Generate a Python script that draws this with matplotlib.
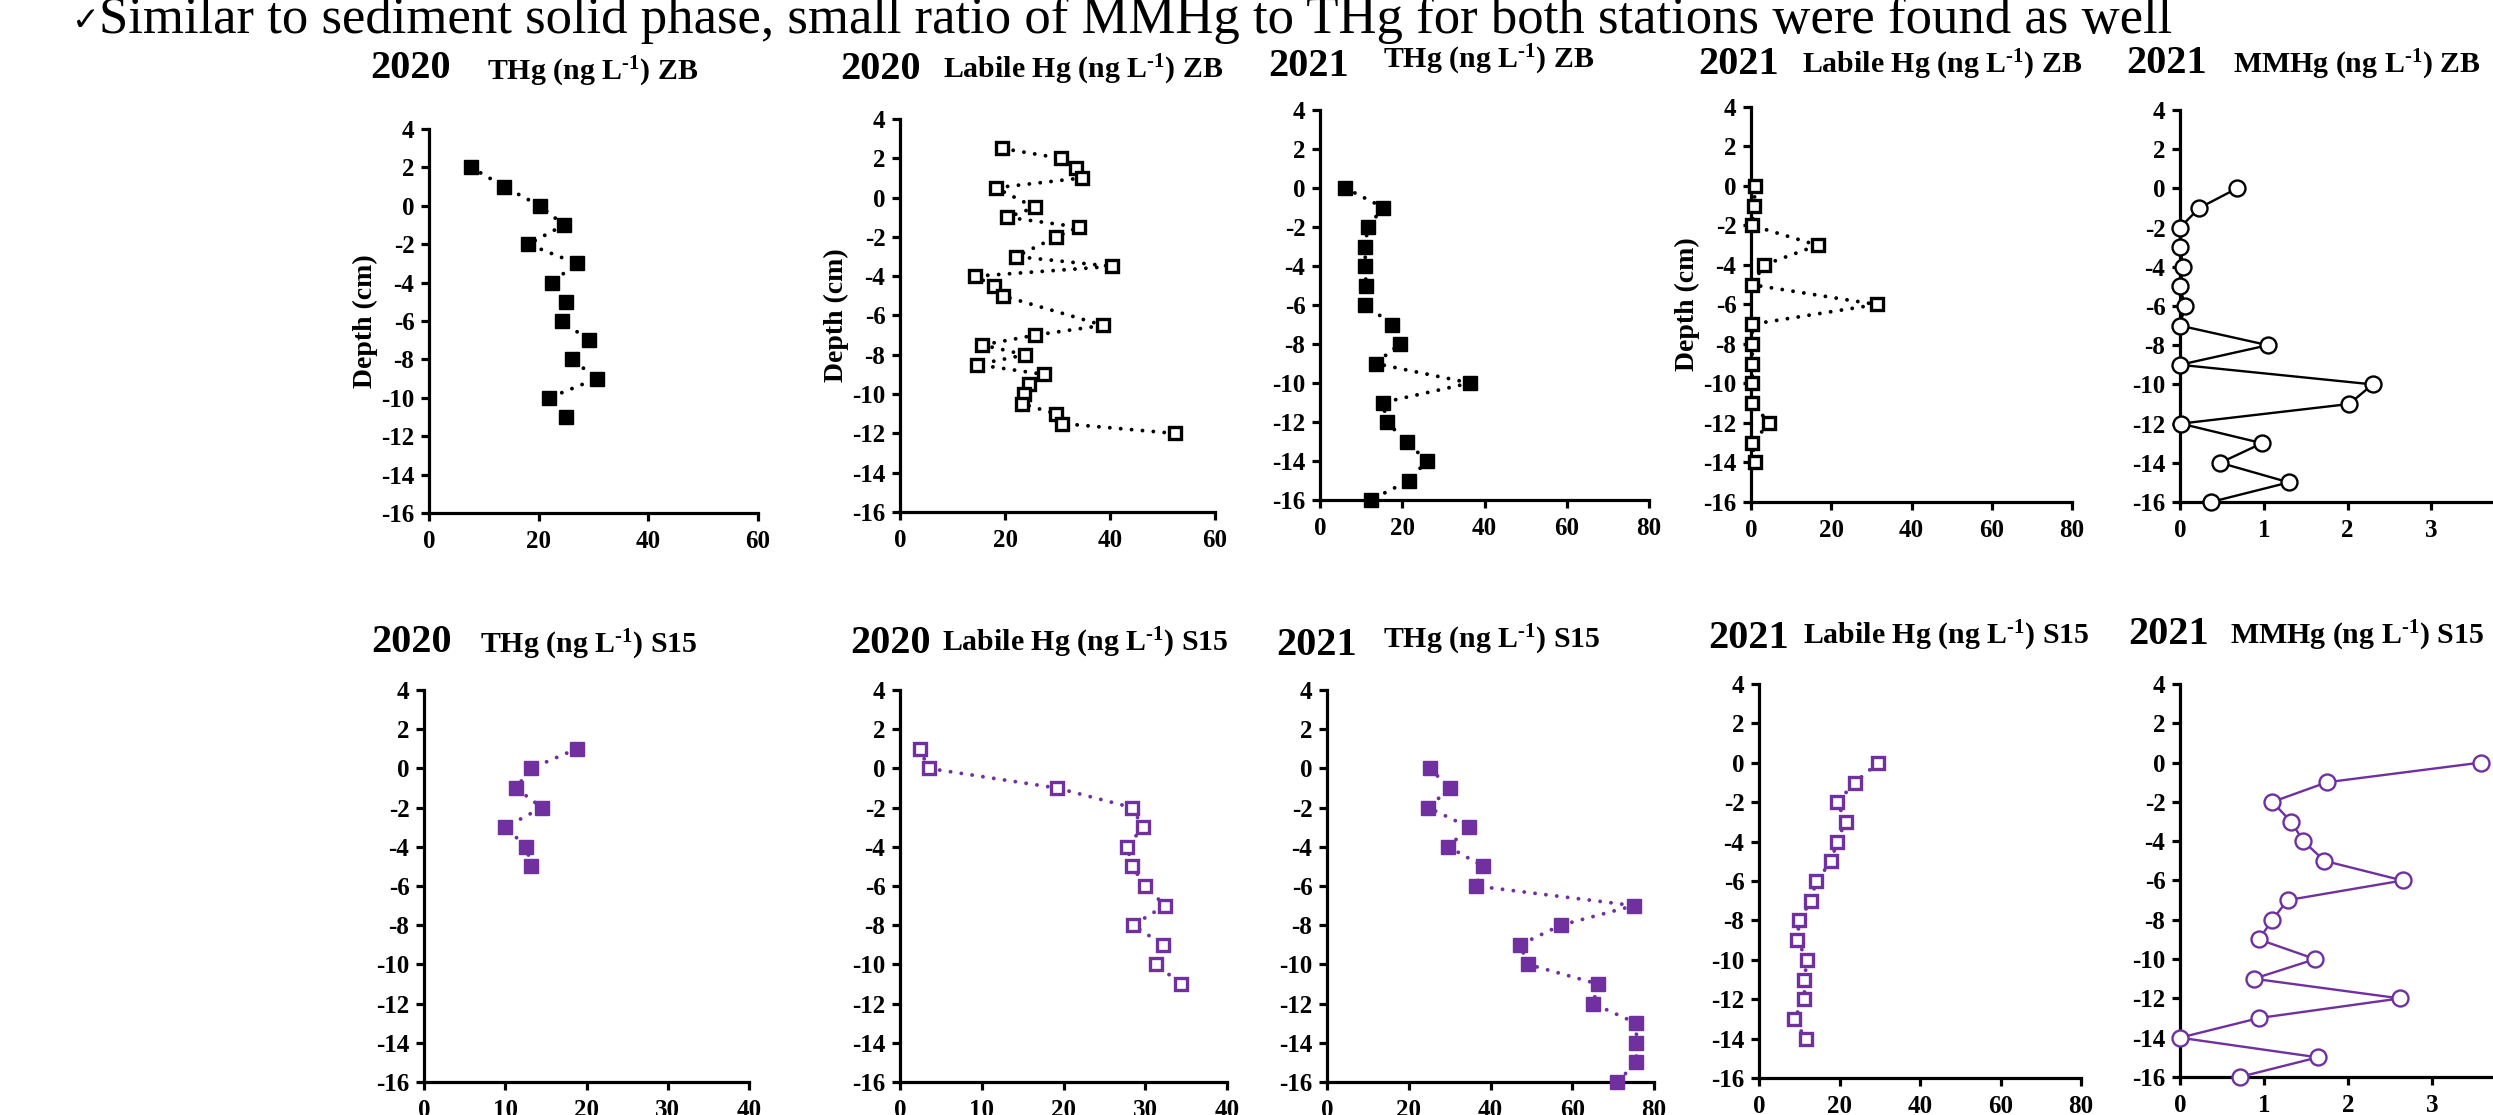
import matplotlib
matplotlib.use("Agg")
import matplotlib.pyplot as plt

plt.rcParams['font.family'] = ['Liberation Serif', 'DejaVu Sans']
plt.rcParams['font.weight'] = 'bold'
plt.rcParams['axes.unicode_minus'] = False
plt.rcParams['mathtext.fontset'] = 'custom'
plt.rcParams['mathtext.rm'] = 'Liberation Serif:bold'
plt.rcParams['mathtext.it'] = 'Liberation Serif:bold'
plt.rcParams['mathtext.bf'] = 'Liberation Serif:bold'
plt.rcParams['mathtext.default'] = 'rm'

PURPLE = '#7030A0'

# ---- data (depth in cm, concentration in ng/L) ----
zb20_thg_depth = [2, 1, 0, -1, -2, -3, -4, -5, -6, -7, -8, -9, -10, -11]
zb20_thg = [7.7, 13.7, 20.2, 24.6, 18.1, 26.9, 22.4, 24.9, 24.2, 29.2, 26.1, 30.6, 21.9, 24.9]

zb20_lab_depth = [2.5, 2, 1.5, 1, 0.5, -0.5, -1, -1.5, -2, -3, -3.5, -4, -4.5, -5, -6.5,
                  -7, -7.5, -8, -8.5, -9, -9.5, -10, -10.5, -11, -11.5, -12]
zb20_lab = [19.5, 30.6, 33.5, 34.7, 18.2, 25.7, 20.4, 34.0, 29.8, 22.1, 40.4, 14.3, 17.9, 19.6, 38.7,
            25.7, 15.7, 23.8, 14.7, 27.5, 24.5, 23.7, 23.3, 29.7, 30.9, 52.4]

zb21_thg_depth = [0, -1, -2, -3, -4, -5, -6, -7, -8, -9, -10, -11, -12, -13, -14, -15, -16]
zb21_thg = [6.1, 15.4, 11.6, 11.0, 11.0, 11.2, 11.0, 17.6, 19.4, 13.5, 36.5, 15.3, 16.2, 21.1, 25.9, 21.7, 12.3]

zb21_lab_depth = [0, -1, -2, -3, -4, -5, -6, -7, -8, -9, -10, -11, -12, -13, -14]
zb21_lab = [1.1, 0.7, 0.3, 16.6, 3.2, 0.3, 31.3, 0.3, 0.3, 0.3, 0.3, 0.2, 4.6, 0.3, 1.1]

zb21_mmhg_depth = [0, -1, -2, -3, -4, -5, -6, -7, -8, -9, -10, -11, -12, -13, -14, -15, -16]
zb21_mmhg = [0.68, 0.23, 0.0, 0.0, 0.04, 0.0, 0.06, 0.0, 1.05, 0.0, 2.30, 2.02, 0.01, 0.98, 0.48, 1.30, 0.37]

s15_20_thg_depth = [1, 0, -1, -2, -3, -4, -5]
s15_20_thg = [18.8, 13.2, 11.3, 14.5, 10.0, 12.6, 13.2]

s15_20_lab_depth = [1, 0, -1, -2, -3, -4, -5, -6, -7, -8, -9, -10, -11]
s15_20_lab = [2.4, 3.5, 19.2, 28.4, 29.7, 27.8, 28.4, 30.0, 32.4, 28.5, 32.2, 31.3, 34.4]

s15_21_thg_depth = [0, -1, -2, -3, -4, -5, -6, -7, -8, -9, -10, -11, -12, -13, -14, -15, -16]
s15_21_thg = [25.1, 30.1, 24.8, 34.7, 29.7, 38.2, 36.4, 75.1, 57.2, 47.2, 49.2, 66.3, 65.1, 75.7, 75.7, 75.7, 71.0]

s15_21_lab_depth = [0, -1, -2, -3, -4, -5, -6, -7, -8, -9, -10, -11, -12, -13, -14]
s15_21_lab = [29.6, 23.8, 19.5, 21.5, 19.3, 18.0, 14.2, 12.9, 10.0, 9.5, 11.9, 11.3, 11.3, 8.7, 11.6]

s15_21_mmhg_depth = [0, -1, -2, -3, -4, -5, -6, -7, -8, -9, -10, -11, -12, -13, -14, -15, -16]
s15_21_mmhg = [3.58, 1.75, 1.10, 1.32, 1.47, 1.72, 2.65, 1.28, 1.10, 0.94, 1.61, 0.88, 2.62, 0.94, 0.0, 1.64, 0.71]

W, H = 2493, 1115
fig = plt.figure(figsize=(W / 100, H / 100), dpi=100)


def px_axes(left, top, right, bottom):
    return fig.add_axes([left / W, 1 - bottom / H, (right - left) / W, (bottom - top) / H])


def panel(box, x, y, xmax, xstep, color, kind, ylabel=False):
    ax = px_axes(*box)
    if kind == 'filled':
        ax.plot(x, y, color=color, lw=2.8, linestyle=(0, (0.01, 2.8)), dash_capstyle='round',
                marker='s', ms=10, mfc=color, mec=color, clip_on=False, zorder=3)
    elif kind == 'open':
        ax.plot(x, y, color=color, lw=2.8, linestyle=(0, (0.01, 2.8)), dash_capstyle='round',
                marker='s', ms=8.5, mfc='white', mec=color, mew=2.4, clip_on=False, zorder=3)
    else:
        ax.plot(x, y, color=color, lw=1.7, marker='o', ms=11.5, mfc='white', mec=color, mew=1.7,
                clip_on=False, zorder=3)
    ax.set_xlim(0, xmax)
    ax.set_ylim(-16, 4)
    ax.set_yticks(range(-16, 5, 2))
    ax.set_xticks(range(0, int(xmax) + 1, xstep))
    for s in ('top', 'right'):
        ax.spines[s].set_visible(False)
    for s in ('left', 'bottom'):
        ax.spines[s].set_linewidth(2.3)
    ax.tick_params(direction='out', length=5.5, width=2.3, labelsize=18, pad=5)
    ax.tick_params(axis='x', pad=7)
    if ylabel:
        ax.set_ylabel('Depth (cm)', fontsize=20, fontweight='bold', labelpad=2)
    ax.patch.set_alpha(0)
    return ax


panel((429, 129, 758, 513), zb20_thg, zb20_thg_depth, 60, 20, 'black', 'filled', True)
panel((900, 119, 1215, 512), zb20_lab, zb20_lab_depth, 60, 20, 'black', 'open', True)
panel((1320, 110, 1649, 500), zb21_thg, zb21_thg_depth, 80, 20, 'black', 'filled')
panel((1751, 107, 2072, 502), zb21_lab, zb21_lab_depth, 80, 20, 'black', 'open', True)
panel((2180, 110, 2515, 502), zb21_mmhg, zb21_mmhg_depth, 4, 1, 'black', 'line')

panel((424, 690, 749, 1082), s15_20_thg, s15_20_thg_depth, 40, 10, PURPLE, 'filled')
panel((900, 690, 1227, 1082), s15_20_lab, s15_20_lab_depth, 40, 10, PURPLE, 'open')
panel((1327, 690, 1654, 1082), s15_21_thg, s15_21_thg_depth, 80, 20, PURPLE, 'filled')
panel((1759, 684, 2081, 1078), s15_21_lab, s15_21_lab_depth, 80, 20, PURPLE, 'open')
panel((2180, 684, 2516, 1077), s15_21_mmhg, s15_21_mmhg_depth, 4, 1, PURPLE, 'line')

sup = 'L$^{\u2010 1}$'.replace(' ', '')
# panel titles: (year x, year baseline, label x, label baseline, year, label)
titles = [
    (370, 78, 487, 80, '2020', 'THg (ng ' + sup + ') ZB'),
    (840, 79, 943, 78, '2020', 'Labile Hg (ng ' + sup + ') ZB'),
    (1268, 76, 1383, 68, '2021', 'THg (ng ' + sup + ') ZB'),
    (1698, 74, 1802, 73, '2021', 'Labile Hg (ng ' + sup + ') ZB'),
    (2126, 73, 2233, 73, '2021', 'MMHg (ng ' + sup + ') ZB'),
    (371, 652, 480, 653, '2020', 'THg (ng ' + sup + ') S15'),
    (850, 653, 942, 651, '2020', 'Labile Hg (ng ' + sup + ') S15'),
    (1276, 655, 1383, 648, '2021', 'THg (ng ' + sup + ') S15'),
    (1708, 648, 1803, 644, '2021', 'Labile Hg (ng ' + sup + ') S15'),
    (2128, 644, 2230, 644, '2021', 'MMHg (ng ' + sup + ') S15'),
]
for yx, yb, lx, lb, year, lab in titles:
    fig.text(yx / W, 1 - yb / H, year, fontsize=29, fontweight='bold', va='baseline', ha='left')
    fig.text(lx / W, 1 - lb / H, lab, fontsize=21.5, fontweight='bold', va='baseline', ha='left')

# slide text cut off at the top of the image
fig.text(72 / W, 1 - 30 / H, '\u2713', fontsize=24, fontweight='normal', va='baseline',
         family=['DejaVu Sans'])
fig.text(99 / W, 1 - 33 / H,
         'Similar to sediment solid phase, small ratio of MMHg to THg for both stations were found as well',
         fontsize=38, fontweight='normal', va='baseline', ha='left')

fig.savefig('out.png', dpi=100)
